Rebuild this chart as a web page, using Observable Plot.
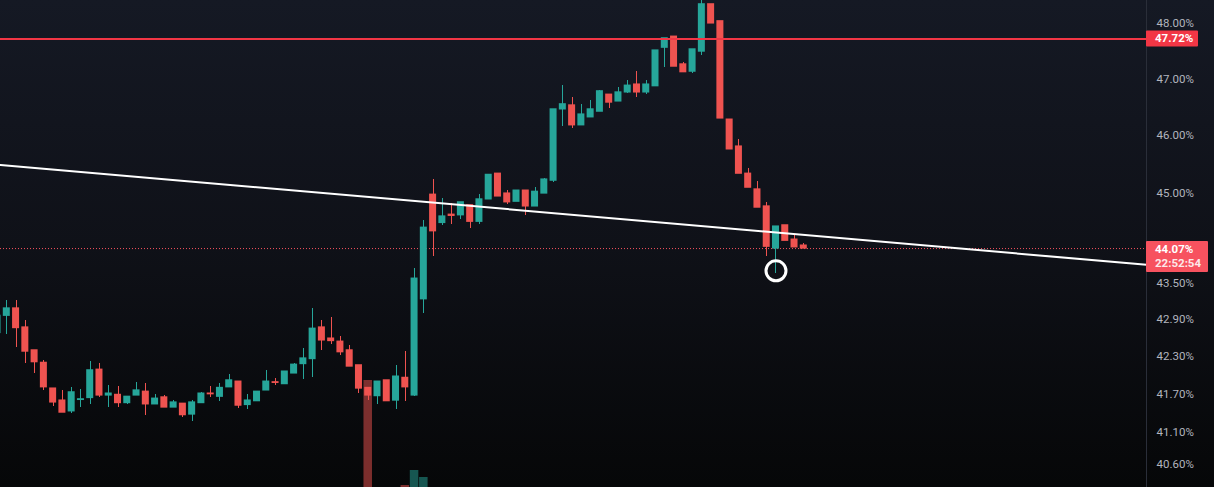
<!DOCTYPE html>
<html><head><meta charset="utf-8">
<script src="https://cdn.jsdelivr.net/npm/d3@7"></script>
<script src="https://cdn.jsdelivr.net/npm/@observablehq/plot@0.6"></script>
<style>
html,body{margin:0;padding:0;background:#0a0b0f;}
#wrap{position:relative;width:1214px;height:487px;overflow:hidden;background:linear-gradient(180deg,#151924 0%,#0f1118 50%,#060708 100%);}
#wrap svg{position:absolute;left:0;top:0;}
</style></head><body><div id="wrap"></div>
<script>
// ---- data (candle index -1 .. 86) ----
const firstIndex = -1;
const opens  = [42.68,42.96,43.08,42.77,42.40,42.20,41.79,41.60,41.43,41.61,41.64,42.09,41.68,41.69,41.56,41.68,41.74,41.54,41.65,41.49,41.55,41.38,41.56,41.71,41.66,41.81,41.90,41.53,41.59,41.76,41.89,41.86,42.03,42.18,42.26,42.77,42.59,42.54,42.40,42.16,41.80,41.67,41.92,41.60,41.96,41.68,43.23,44.98,44.50,44.64,44.63,44.80,44.52,44.90,45.34,45.00,44.86,45.05,44.78,45.00,45.22,46.46,46.53,46.18,46.32,46.42,46.72,46.60,46.76,46.90,46.76,46.87,47.56,47.76,47.26,47.13,47.49,48.35,48.04,46.28,45.81,45.34,45.07,44.78,44.07,44.46,44.22,44.12];
const highs  = [43.05,43.21,43.21,42.88,42.40,42.24,41.79,41.76,41.80,41.77,42.22,42.19,41.84,41.82,41.66,41.88,41.87,41.69,41.68,41.60,41.55,41.60,41.73,41.82,41.87,42.01,41.90,41.69,41.74,42.08,41.95,42.06,42.19,42.43,43.08,42.88,42.93,42.62,42.48,42.16,41.80,41.90,41.92,42.16,42.38,43.74,44.54,45.24,44.91,44.83,44.85,44.80,44.98,45.32,45.34,45.05,45.05,45.05,45.10,45.26,46.46,46.88,46.67,46.55,46.62,46.79,46.72,46.85,46.97,47.13,46.97,47.51,47.73,47.76,47.29,47.53,48.42,48.35,48.04,46.28,45.93,45.43,45.21,44.85,44.44,44.46,44.29,44.15];
const lows   = [42.64,42.65,42.45,42.19,42.03,41.76,41.51,41.41,41.40,41.49,41.54,41.65,41.49,41.49,41.54,41.68,41.37,41.54,41.49,41.49,41.34,41.27,41.56,41.65,41.59,41.81,41.48,41.46,41.59,41.76,41.84,41.86,42.03,41.94,41.97,42.39,42.50,42.32,42.14,41.71,41.60,41.54,41.59,41.46,41.59,41.66,42.99,43.94,44.45,44.47,44.56,44.41,44.47,44.90,44.95,44.81,44.86,44.63,44.78,45.00,45.19,46.16,46.12,46.18,46.32,46.42,46.48,46.60,46.74,46.67,46.72,46.87,47.21,47.22,47.12,47.10,47.42,48.00,46.30,45.76,45.34,45.10,44.76,43.94,43.65,44.20,44.09,44.07];
const closes = [42.96,43.08,42.76,42.38,42.21,41.81,41.57,41.41,41.73,41.62,42.08,41.68,41.71,41.56,41.66,41.76,41.54,41.63,41.49,41.57,41.37,41.57,41.71,41.70,41.80,41.92,41.52,41.60,41.74,41.90,41.88,42.06,42.17,42.27,42.75,42.56,42.55,42.37,42.14,41.79,41.68,41.90,41.59,41.98,41.81,43.57,44.42,44.36,44.61,44.62,44.85,44.52,44.90,45.32,44.95,44.85,45.05,44.78,45.03,45.24,46.46,46.55,46.18,46.37,46.46,46.78,46.58,46.76,46.88,46.76,46.90,47.51,47.73,47.22,47.12,47.53,48.35,48.00,46.30,45.76,45.34,45.10,44.76,44.10,44.44,44.20,44.09,44.07];

const volIndex = [39, 43, 44, 45];
const volValue = [1.07, 0.02, 0.17, 0.10];

const yTicks = [48.00, 47.00, 46.00, 45.00, 43.50, 42.90, 42.30, 41.70, 41.10, 40.60];
const resistance = 47.72;
const lastPrice = 44.07;
const lastTime = "22:52:54";
const trendIdx = [-0.68, 122.98];
const trendVal = [45.49, 43.80];
const markerIdx = 83, markerVal = 43.70;

// ---- build tables ----
const candles = opens.map((o, k) => ({i: k + firstIndex, o, h: highs[k], l: lows[k], c: closes[k]}));
const trend = trendIdx.map((i, k) => ({i, v: trendVal[k]}));
const vols = volIndex.map((i, k) => {
  const cd = candles.find(d => d.i === i);
  return {i, v: volValue[k], up: cd.c >= cd.o};
});

const UP = "#26a69a", DOWN = "#ef5350";
const W = 1214, H = 487, MR = 68;
const xDomain = [-0.68, 122.98];
const font = "Roboto, 'Liberation Sans', sans-serif";
const hw = 0.378;

const wrap = document.getElementById("wrap");

// volume layer
const volPlot = Plot.plot({
  width: W, height: H, marginTop: 0, marginBottom: 0, marginLeft: 0, marginRight: MR,
  style: {background: "transparent"},
  x: {domain: xDomain, axis: null},
  y: {domain: [0, 4.87], axis: null},
  marks: [
    Plot.rect(vols, {x1: d => d.i - 0.46, x2: d => d.i + 0.46, y1: 0, y2: "v",
      fill: d => d.up ? UP : DOWN, fillOpacity: 0.5})
  ]
});
wrap.appendChild(volPlot);

// price layer
const chart = Plot.plot({
  width: W, height: H, marginTop: 0, marginBottom: 0, marginLeft: 0, marginRight: MR,
  style: {background: "transparent", color: "#b2b5be", fontFamily: font, fontSize: "11.5px"},
  x: {domain: xDomain, axis: null},
  y: {type: "log", domain: [40.25, 48.42]},
  marks: [
    Plot.axisY({anchor: "right", ticks: yTicks, tickSize: 0, tickPadding: 10,
      tickFormat: d => d.toFixed(2) + "%", textAnchor: "start"}),
    Plot.ruleY([lastPrice], {stroke: "#f7525f", strokeWidth: 1, strokeDasharray: "1,2"}),
    Plot.ruleX(candles, {x: "i", y1: "l", y2: "h", stroke: d => d.c >= d.o ? UP : DOWN, strokeWidth: 1, shapeRendering: "crispEdges"}),
    Plot.rect(candles, {x1: d => d.i - hw, x2: d => d.i + hw, y1: "o", y2: "c",
      insetTop: -0.6, insetBottom: -0.6,
      fill: d => d.c >= d.o ? UP : DOWN}),
    Plot.ruleY([resistance], {stroke: "#f23645", strokeWidth: 2}),
    Plot.line(trend, {x: "i", y: "v", stroke: "#ffffff", strokeWidth: 2}),
    Plot.dot([{i: markerIdx, v: markerVal}], {x: "i", y: "v", r: 10, stroke: "#ffffff", strokeWidth: 3, fill: "none"})
  ]
});
wrap.appendChild(chart);

// axis border and price labels using the chart's scales
const ys = chart.scale("y");
const svg = d3.select(chart);
const axX = W - MR;
svg.append("line").attr("x1", axX + 0.5).attr("x2", axX + 0.5).attr("y1", 0).attr("y2", H)
  .attr("stroke", "#2a2e39").attr("stroke-width", 1);

const lab = svg.append("g").attr("text-anchor", "start").attr("font-family", font).attr("font-size", "11.5px").attr("font-weight", "bold");
const yr = ys.apply(resistance);
lab.append("rect").attr("x", axX).attr("y", yr - 8).attr("width", 52).attr("height", 16).attr("rx", 1).attr("fill", "#f23645");
lab.append("text").attr("x", axX + 9).attr("y", yr).attr("dy", "0.35em").attr("fill", "#ffffff").text(resistance.toFixed(2) + "%");

const yl = ys.apply(lastPrice);
lab.append("rect").attr("x", axX).attr("y", yl - 7).attr("width", 62).attr("height", 31).attr("rx", 1).attr("fill", "#f7525f");
lab.append("text").attr("x", axX + 9).attr("y", yl + 1).attr("dy", "0.35em").attr("fill", "#ffffff").text(lastPrice.toFixed(2) + "%");
lab.append("text").attr("x", axX + 9).attr("y", yl + 15).attr("dy", "0.35em").attr("fill", "#fde8e8").text(lastTime);
</script>
</body></html>
